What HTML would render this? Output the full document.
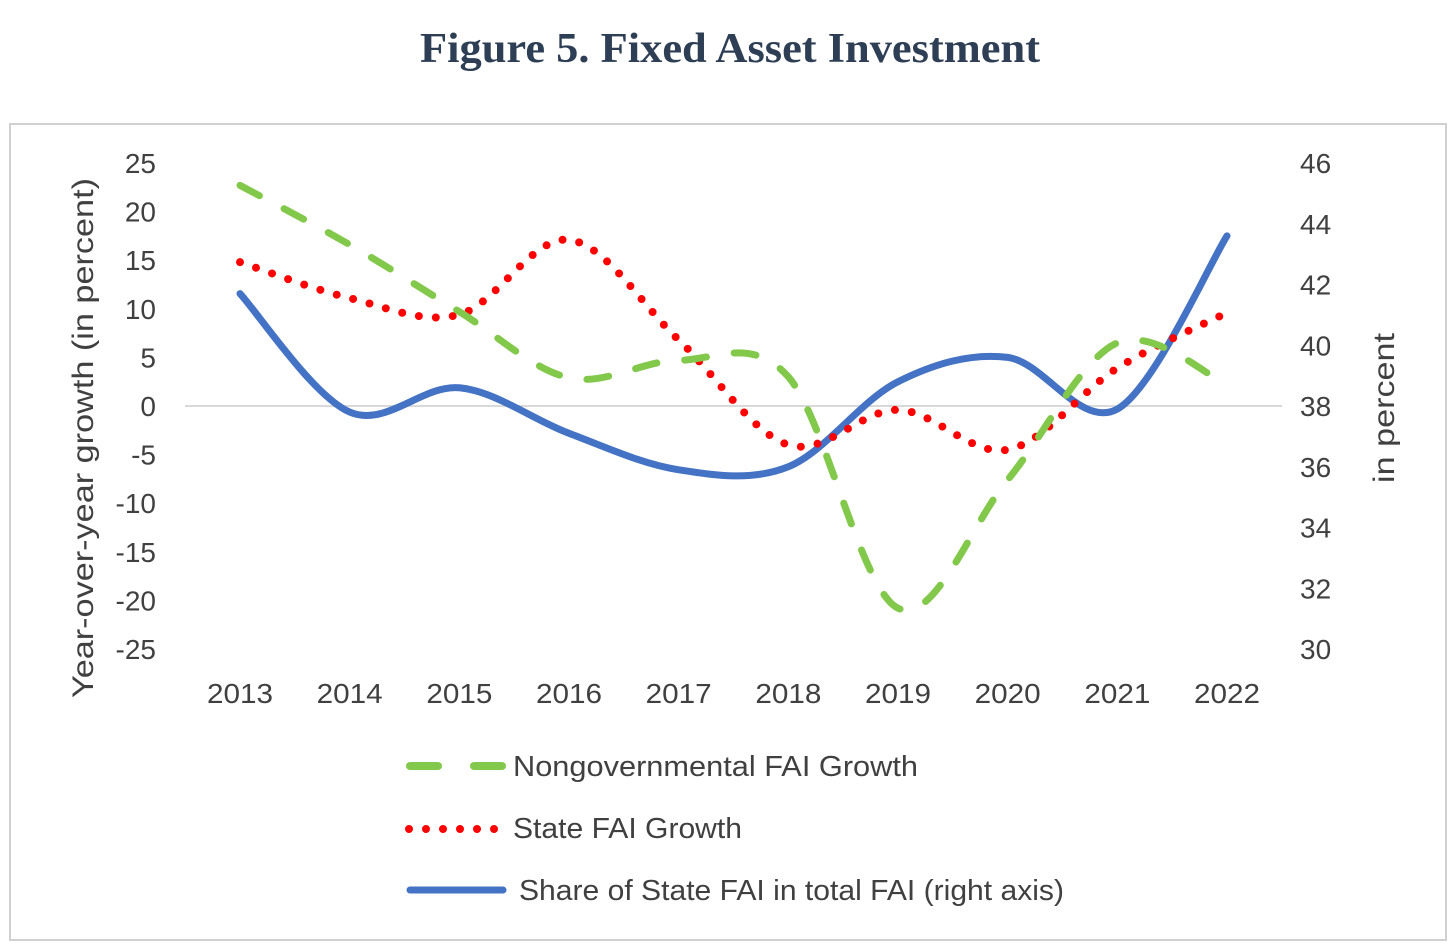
<!DOCTYPE html>
<html><head><meta charset="utf-8"><style>
body{margin:0;background:#fff;width:1456px;height:947px;overflow:hidden}
svg text{font-family:"Liberation Sans",sans-serif;fill:#404040}
</style></head><body>
<svg width="1456" height="947">
<text x="730" y="62" text-anchor="middle" textLength="620" lengthAdjust="spacingAndGlyphs" style="font-family:'Liberation Serif',serif;font-weight:bold;font-size:42px;fill:#2d3e55">Figure 5. Fixed Asset Investment</text>
<rect x="10" y="124" width="1436" height="816" fill="none" stroke="#d0d0d0" stroke-width="2"/>
<g id="axes"></g>
<g id="series"></g>
<text transform="translate(93,438) rotate(-90)" text-anchor="middle" font-size="30" textLength="520" lengthAdjust="spacingAndGlyphs">Year-over-year growth (in percent)</text>
<text transform="translate(1394,408) rotate(-90)" text-anchor="middle" font-size="30" textLength="150" lengthAdjust="spacingAndGlyphs">in percent</text>
<g>
<line x1="410" y1="766" x2="502" y2="766" stroke="#82c84a" stroke-width="8" stroke-linecap="round" stroke-dasharray="28 36"/>
<text x="513" y="776" font-size="29" textLength="405" lengthAdjust="spacingAndGlyphs">Nongovernmental FAI Growth</text>
<line x1="409" y1="829" x2="495" y2="829" stroke="#ff0000" stroke-width="8" stroke-linecap="round" stroke-dasharray="0 17"/>
<text x="513" y="838" font-size="29" textLength="229" lengthAdjust="spacingAndGlyphs">State FAI Growth</text>
<line x1="410" y1="890" x2="503" y2="890" stroke="#4472c4" stroke-width="7" stroke-linecap="round"/>
<text x="519" y="900" font-size="29" textLength="545" lengthAdjust="spacingAndGlyphs">Share of State FAI in total FAI (right axis)</text>
</g>
</svg>
<script>
const years=["2013","2014","2015","2016","2017","2018","2019","2020","2021","2022"];
const nongov=[22.7,16.6,9.7,2.9,4.7,3.0,-20.8,-7.6,6.5,2.2];
const state=[14.8,11.1,9.4,17.1,6.8,-4.0,-0.4,-4.5,3.9,9.6];
const share=[41.7,37.8,38.6,37.1,35.9,36.0,38.8,39.6,37.9,43.6];
const leftTicks=[25,20,15,10,5,0,-5,-10,-15,-20,-25];
const rightTicks=[46,44,42,40,38,36,34,32,30];
const NS="http://www.w3.org/2000/svg";
const xs=i=>240+i*(1227-240)/9;
const yL=v=>406-v*9.72;
const yR=v=>163+(46-v)*30.375;
const axes=document.getElementById('axes'),ser=document.getElementById('series');
function mk(t,a,p){const e=document.createElementNS(NS,t);for(const k in a)e.setAttribute(k,a[k]);p.appendChild(e);return e;}
let z=mk('line',{x1:185,x2:1282,y1:yL(0),y2:yL(0),stroke:'#d9d9d9','stroke-width':2},axes);


leftTicks.forEach(v=>{const t=mk('text',{x:156,y:yL(v)+10,'text-anchor':'end','font-size':28},axes);t.textContent=v;

});
rightTicks.forEach(v=>{const t=mk('text',{x:1300,y:yR(v)+10,'font-size':28},axes);t.textContent=v;

});
years.forEach((y,i)=>{const t=mk('text',{x:xs(i),y:703,'text-anchor':'middle','font-size':28,textLength:66,lengthAdjust:'spacingAndGlyphs'},axes);t.textContent=y;

});
function path(pts){let d=`M${pts[0][0]},${pts[0][1]}`;const s=1/6;
for(let i=0;i<pts.length-1;i++){const p0=pts[Math.max(i-1,0)],p1=pts[i],p2=pts[i+1],p3=pts[Math.min(i+2,pts.length-1)];
d+=` C${p1[0]+(p2[0]-p0[0])*s},${p1[1]+(p2[1]-p0[1])*s} ${p2[0]-(p3[0]-p1[0])*s},${p2[1]-(p3[1]-p1[1])*s} ${p2[0]},${p2[1]}`;}return d;}
let a=mk('path',{d:path(share.map((v,i)=>[xs(i),yR(v)])),fill:'none',stroke:'#4472c4','stroke-width':7,'stroke-linecap':'round'},ser);


let b=mk('path',{d:path(state.map((v,i)=>[xs(i),yL(v)])),fill:'none',stroke:'#ff0000','stroke-width':8,'stroke-linecap':'round','stroke-dasharray':'0 17'},ser);


let c=mk('path',{d:path(nongov.map((v,i)=>[xs(i),yL(v)])),fill:'none',stroke:'#82c84a','stroke-width':7,'stroke-linecap':'round','stroke-dasharray':'22 28'},ser);


</script>
</body></html>
